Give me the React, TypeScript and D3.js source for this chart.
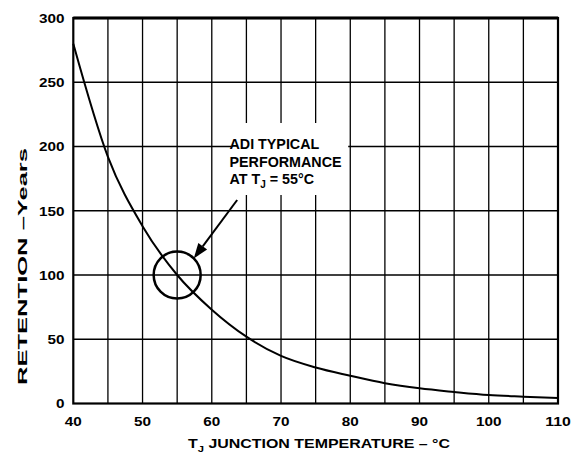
import { line, curveMonotoneX, scaleLinear, range } from 'd3'

const temperatures = [40, 45, 50, 55, 60, 65, 70, 75, 80, 85, 90, 95, 100, 105, 110]
const retentionYears = [280, 192, 138, 100, 73, 52, 37, 28, 21.6, 15.8, 11.8, 9, 6.6, 5.3, 4.2]
const xTicks = [40, 50, 60, 70, 80, 90, 100, 110]
const yTicks = [0, 50, 100, 150, 200, 250, 300]
const markerPoint = { temp: 55, years: 100 }

const width = 585
const height = 455
const margin = { top: 18, right: 27, bottom: 51.5, left: 73.3 }
const font = '"Liberation Sans", Arial, sans-serif'

// the digits in the reference are a bit wider than plain Arial
const digitWidth = 8.5

export default function App() {
  const x = scaleLinear().domain([40, 110]).range([margin.left, width - margin.right])
  const y = scaleLinear().domain([0, 300]).range([height - margin.bottom, margin.top])

  const points = temperatures.map((t, i) => [x(t), y(retentionYears[i])] as [number, number])
  const path = line().curve(curveMonotoneX)(points) ?? ''

  const cx = x(markerPoint.temp)
  const cy = y(markerPoint.years)
  const r = 23.5

  // arrow from the note down to the circle edge
  const tip = { x: cx + r * Math.cos(-Math.PI / 4), y: cy + r * Math.sin(-Math.PI / 4) }
  const start = { x: cx + 60, y: cy - 75 }
  const ang = Math.atan2(tip.y - start.y, tip.x - start.x)
  const headLen = 15
  const headW = 5.5
  const base = { x: tip.x - headLen * Math.cos(ang), y: tip.y - headLen * Math.sin(ang) }
  const head = [
    [tip.x, tip.y],
    [base.x + headW * Math.sin(ang), base.y - headW * Math.cos(ang)],
    [base.x - headW * Math.sin(ang), base.y + headW * Math.cos(ang)],
  ]

  const noteBox = { x0: x(62.8), x1: x(79.7), y0: 123, y1: 195 }

  return (
    <svg
      width={width}
      height={height}
      style={{ position: 'absolute', left: 0, top: 0, background: '#fff' }}
      fontFamily={font}
      fontWeight="bold"
    >
      {range(45, 110, 5).map((t) => (
        <line key={`v${t}`} x1={x(t)} x2={x(t)} y1={y(0)} y2={y(300)} stroke="#000" strokeWidth={1.3} />
      ))}
      {range(50, 300, 50).map((v) => (
        <line key={`h${v}`} x1={x(40)} x2={x(110)} y1={y(v)} y2={y(v)} stroke="#000" strokeWidth={1.3} />
      ))}

      <rect
        x={noteBox.x0}
        y={noteBox.y0}
        width={noteBox.x1 - noteBox.x0}
        height={noteBox.y1 - noteBox.y0}
        fill="#fff"
      />

      <rect
        x={x(40)}
        y={y(300)}
        width={x(110) - x(40)}
        height={y(0) - y(300)}
        fill="none"
        stroke="#000"
        strokeWidth={2.2}
      />
      <line x1={x(40)} x2={x(110)} y1={y(300)} y2={y(300)} stroke="#000" strokeWidth={2.8} />

      <path d={path} fill="none" stroke="#000" strokeWidth={2} />

      <circle cx={cx} cy={cy} r={r} fill="none" stroke="#000" strokeWidth={2.5} />

      <line x1={start.x} y1={start.y} x2={base.x} y2={base.y} stroke="#000" strokeWidth={2} />
      <polygon points={head.map((p) => p.join(',')).join(' ')} fill="#000" />

      <g fontSize={14.3} fill="#000">
        <text x={229.5} y={149.3}>ADI TYPICAL</text>
        <text x={229.5} y={166.7}>PERFORMANCE</text>
        <text x={229.5} y={183.5}>
          AT T
          <tspan fontSize={10} dy={4}>J</tspan>
          <tspan dy={-4}> = 55°C</tspan>
        </text>
      </g>

      {yTicks.map((v) => (
        <text
          key={`yt${v}`}
          x={64.5 - String(v).length * digitWidth}
          y={y(v)}
          dy="0.36em"
          fontSize={13.5}
          textLength={String(v).length * digitWidth}
          lengthAdjust="spacingAndGlyphs"
        >
          {v}
        </text>
      ))}
      {xTicks.map((t) => (
        <text
          key={`xt${t}`}
          x={x(t) - (String(t).length * digitWidth) / 2}
          y={426}
          fontSize={13.5}
          textLength={String(t).length * digitWidth}
          lengthAdjust="spacingAndGlyphs"
        >
          {t}
        </text>
      ))}

      <text
        transform="translate(26.5, 266.5) rotate(-90)"
        textAnchor="middle"
        fontSize={13.5}
        textLength={237}
        lengthAdjust="spacingAndGlyphs"
      >
        RETENTION –Years
      </text>

      <text x={188} y={448} fontSize={13.5} textLength={262} lengthAdjust="spacingAndGlyphs">
        T<tspan fontSize={9.5} dy={4}>J</tspan>
        <tspan dy={-4}> JUNCTION TEMPERATURE – °C</tspan>
      </text>
    </svg>
  )
}
